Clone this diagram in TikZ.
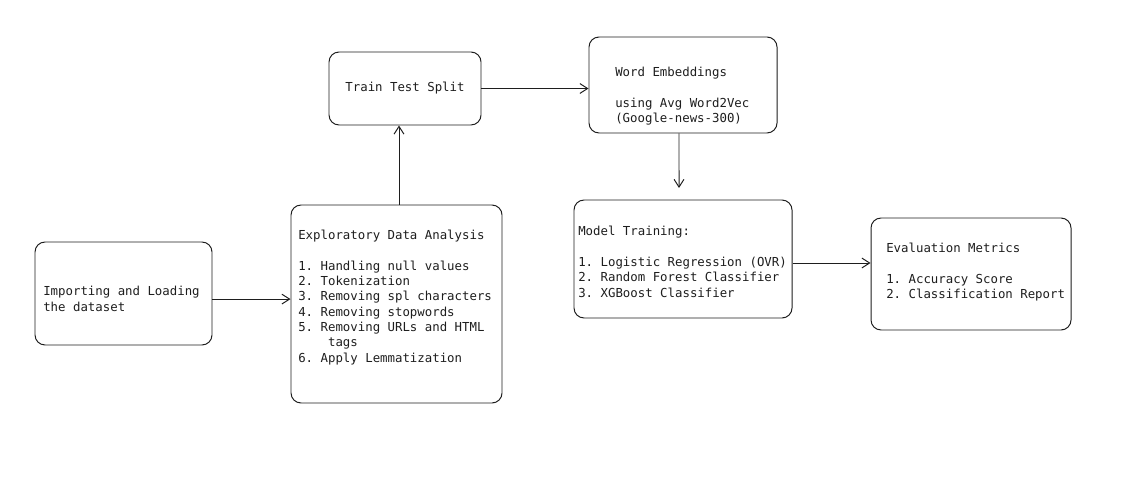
\documentclass[tikz,border=0pt]{standalone}
\usepackage{fontspec}
\setmonofont{DejaVu Sans Mono}
\usepackage{xcolor}
\usetikzlibrary{shapes, arrows.meta, positioning}
\definecolor{ink}{HTML}{1E1E1E}

\begin{document}
\begin{tikzpicture}[
        box/.style={draw=ink, line width=0.7pt, rounded corners=0.25cm, fill=white},
        txt/.style={inner sep=0pt, align=left, text=ink, font=\ttfamily\fontsize{8.8}{10.9}\selectfont},
        arr/.style={draw=ink, line width=0.7pt, -{Straight Barb[length=5.5pt, width=7pt]}}
    ]
        \useasboundingbox (0,0) rectangle (28.4,12.375);

        % Boxes
        \node[box, minimum width=4.425cm, minimum height=2.575cm] (import) at (3.0875,5.0375) {};
        \node[box, minimum width=5.275cm, minimum height=4.95cm] (eda) at (9.9125,4.775) {};
        \node[box, txt, minimum width=3.8cm, minimum height=1.825cm] (split) at (10.125,10.1625) {Train Test Split};
        \node[box, minimum width=4.7cm, minimum height=2.4cm] (embed) at (17.075,10.25) {};
        \node[box, minimum width=5.45cm, minimum height=2.95cm] (train) at (17.075,5.9) {};
        \node[box, minimum width=5cm, minimum height=2.8cm] (evalbox) at (24.275,5.525) {};

        % Texts
        \node[txt, anchor=west] (importtxt) at (1.075,4.9) {Importing and Loading\\the dataset};
        \node[txt, anchor=west] (edatxt) at (7.45,4.94) {Exploratory Data Analysis\\[10.9pt]
            1. Handling null values\\
            2. Tokenization\\
            3. Removing spl characters\\
            4. Removing stopwords\\
            5. Removing URLs and HTML\\
            \phantom{xxxx}tags\\
            6. Apply Lemmatization};
        \node[txt, anchor=west] (embedtxt) at (15.375,9.97) {Word Embeddings\\[10.9pt]
            using Avg Word2Vec\\
            (Google-news-300)};
        \node[txt, anchor=west] (traintxt) at (14.45,5.83) {Model Training:\\[10.9pt]
            1. Logistic Regression (OVR)\\
            2. Random Forest Classifier\\
            3. XGBoost Classifier};
        \node[txt, anchor=west] (evaltxt) at (22.15,5.57) {Evaluation Metrics\\[10.9pt]
            1. Accuracy Score\\
            2. Classification Report};

        % Arrows
        \coordinate (trainin) at (16.975,7.675);
        \draw[arr] ([yshift=-0.14cm]import.east) -- ([yshift=-0.14cm]import.east -| eda.west);
        \draw[arr] ([xshift=0.0625cm]eda.north) -- ([xshift=0.0625cm]eda.north |- split.south);
        \draw[arr] (split.east) -- (split.east -| embed.west);
        \draw[arr] ([xshift=-0.1cm]embed.south) -- (trainin);
        \draw[arr] ([yshift=-0.1cm]train.east) -- ([yshift=-0.1cm]train.east -| evalbox.west);
    \end{tikzpicture}
\end{document}
